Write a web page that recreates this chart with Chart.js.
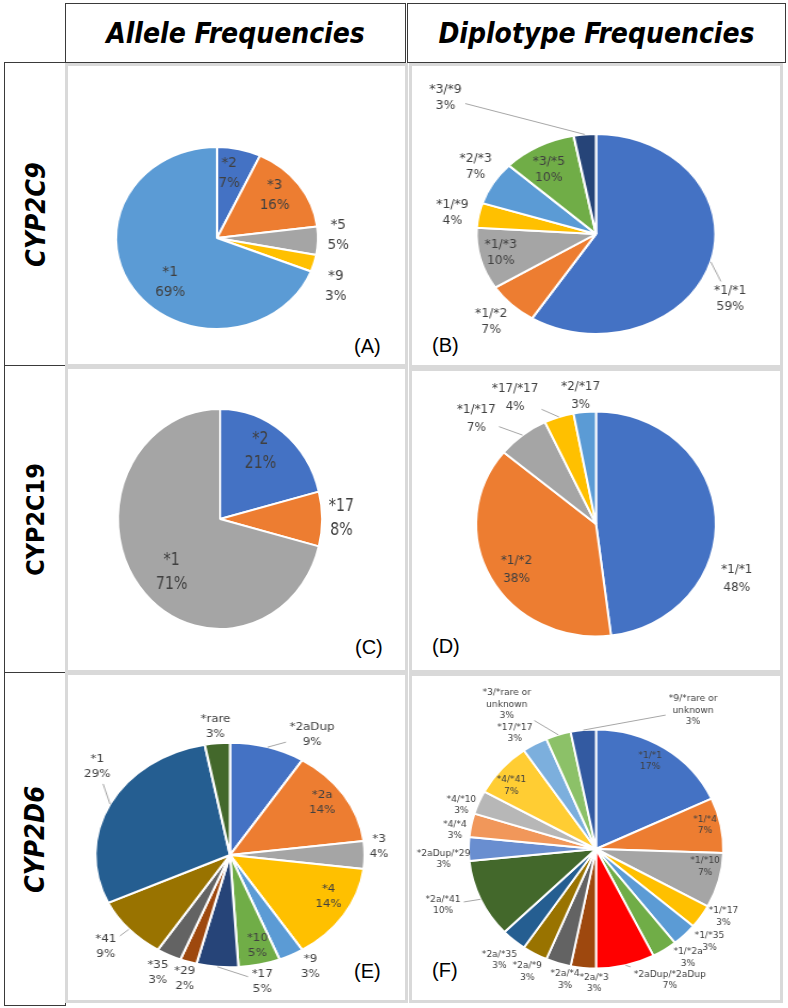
<!DOCTYPE html>
<html>
<head>
<meta charset="utf-8">
<title>CYP2C9 / CYP2C19 / CYP2D6 allele and diplotype frequencies</title>
<script src="https://cdn.jsdelivr.net/npm/chart.js@4.4.1/dist/chart.umd.min.js"></script>
<style>
  html, body { margin: 0; padding: 0; background: #fff; }
  body { position: relative; width: 788px; height: 1008px; overflow: hidden; }
  .cell {
    position: absolute; box-sizing: border-box; border: 1px solid #3a3a3a;
    display: flex; align-items: center; justify-content: center;
    font-family: "Liberation Sans Narrow", "DejaVu Sans Condensed", "Noto Sans", sans-serif;
    font-weight: bold; color: #000;
  }
  .head { font-size: 28px; font-style: italic; }
  .gene span { display: block; transform: rotate(-90deg); white-space: nowrap; font-size: 27px; }
  .panel { position: absolute; box-sizing: border-box; border: 3px solid #d9d9d9; }
  .tag { position: absolute; font: 20px/22px "Liberation Sans", Arial, sans-serif; color: #000; }
  canvas { position: absolute; }
</style>
</head>
<body>

<div class="cell head" style="left:65px;top:3px;width:341px;height:60px;">Allele Frequencies</div>
<div class="cell head" style="left:407px;top:3px;width:379px;height:60px;">Diplotype Frequencies</div>
<div class="cell gene" style="left:4px;top:62px;width:62px;height:304px;"><span style="font-style:italic">CYP2C9</span></div>
<div class="cell gene" style="left:4px;top:365px;width:62px;height:308px;"><span style="font-size:25px">CYP2C19</span></div>
<div class="cell gene" style="left:4px;top:672px;width:62px;height:334px;"><span style="font-style:italic">CYP2D6</span></div>

<div class="panel" style="left:65px;top:63px;width:343px;height:304px;"></div>
<div class="panel" style="left:409px;top:63px;width:374px;height:305px;"></div>
<div class="panel" style="left:65px;top:366px;width:343px;height:307px;"></div>
<div class="panel" style="left:409px;top:368px;width:374px;height:305px;"></div>
<div class="panel" style="left:65px;top:672px;width:343px;height:331px;"></div>
<div class="panel" style="left:409px;top:673px;width:374px;height:330px;"></div>

<div class="tag" style="left:354px;top:335px;">(A)</div>
<div class="tag" style="left:432px;top:334px;">(B)</div>
<div class="tag" style="left:355px;top:636px;">(C)</div>
<div class="tag" style="left:432px;top:635px;">(D)</div>
<div class="tag" style="left:354px;top:960px;">(E)</div>
<div class="tag" style="left:432px;top:959px;">(F)</div>

<script>
// (A) CYP2C9 alleles, clockwise from 12 o'clock
const cyp2c9Alleles = ['*2', '*3', '*5', '*9', '*1'];
const cyp2c9AlleleFreq = [7, 16, 5, 3, 69];

// (B) CYP2C9 diplotypes
const cyp2c9Diplotypes = ['*1/*1', '*1/*2', '*1/*3', '*1/*9', '*2/*3', '*3/*5', '*3/*9'];
const cyp2c9DiplotypeFreq = [59, 7, 10, 4, 7, 10, 3];

// (C) CYP2C19 alleles
const cyp2c19Alleles = ['*2', '*17', '*1'];
const cyp2c19AlleleFreq = [21, 8, 71];

// (D) CYP2C19 diplotypes
const cyp2c19Diplotypes = ['*1/*1', '*1/*2', '*1/*17', '*17/*17', '*2/*17'];
const cyp2c19DiplotypeFreq = [48, 38, 7, 4, 3];

// (E) CYP2D6 alleles
const cyp2d6Alleles = ['*2aDup', '*2a', '*3', '*4', '*9', '*10', '*17', '*29', '*35', '*41', '*1', '*rare'];
const cyp2d6AlleleFreq = [9, 14, 4, 14, 3, 5, 5, 2, 3, 9, 29, 3];

// (F) CYP2D6 diplotypes
const cyp2d6Diplotypes = ['*1/*1', '*1/*4', '*1/*10', '*1/*17', '*1/*35', '*1/*2a', '*2aDup/*2aDup',
  '*2a/*3', '*2a/*4', '*2a/*9', '*2a/*35', '*2a/*41', '*2aDup/*29', '*4/*4', '*4/*10', '*4/*41',
  '*17/*17', '*3/*rare or unknown', '*9/*rare or unknown'];
const cyp2d6DiplotypeFreq = [17, 7, 7, 3, 3, 3, 7, 3, 3, 3, 3, 10, 3, 3, 3, 7, 3, 3, 3];

// Office palette, in the order Excel hands colours to slices
const palette = ['#4472C4', '#ED7D31', '#A5A5A5', '#FFC000', '#5B9BD5', '#70AD47', '#264478',
  '#9E480E', '#636363', '#997300', '#255E91', '#43682B', '#698ED0', '#F1975A', '#B7B7B7',
  '#FFCD33', '#7CAFDD', '#8CC168', '#335AA1'];

const LABEL_FONT = '"Liberation Sans Narrow", "DejaVu Sans Condensed", "Noto Sans", sans-serif';
const BORDER = 2;

// label placement per slice: [radius factor, angle shift in degrees, leader line]
function sliceLabelPlugin(place, fontSize, lineH) {
  return {
    id: 'sliceLabels',
    afterDatasetsDraw(chart) {
      const ctx = chart.ctx;
      const meta = chart.getDatasetMeta(0);
      const values = chart.data.datasets[0].data;
      ctx.save();
      ctx.font = fontSize + 'px ' + LABEL_FONT;
      ctx.textAlign = 'center';
      ctx.textBaseline = 'middle';
      meta.data.forEach((arc, i) => {
        const { x, y, startAngle, endAngle, outerRadius } =
          arc.getProps(['x', 'y', 'startAngle', 'endAngle', 'outerRadius'], true);
        const [k, shift, leader] = place[i];
        const mid = (startAngle + endAngle) / 2;
        const a = mid + shift * Math.PI / 180;
        const lx = x + Math.cos(a) * outerRadius * k;
        const ly = y + Math.sin(a) * outerRadius * k;
        const name = chart.data.labels[i];
        const lines = name.includes(' or ')
          ? [name.slice(0, name.indexOf(' or ') + 3), name.slice(name.indexOf(' or ') + 4)]
          : [name];
        lines.push(values[i] + '%');
        const w = Math.max(...lines.map(t => ctx.measureText(t).width));
        const h = lines.length * lineH;
        if (leader) {
          const ex = x + Math.cos(mid) * outerRadius;
          const ey = y + Math.sin(mid) * outerRadius;
          const dx = ex - lx, dy = ey - ly;
          const s = Math.min((w / 2 + 3) / Math.max(Math.abs(dx), 1e-6),
                             (h / 2 + 2) / Math.max(Math.abs(dy), 1e-6));
          if (s < 1) {
            ctx.strokeStyle = '#a6a6a6';
            ctx.lineWidth = 1;
            ctx.beginPath();
            ctx.moveTo(ex, ey);
            ctx.lineTo(lx + dx * s, ly + dy * s);
            ctx.stroke();
          }
        }
        ctx.fillStyle = '#404040';
        lines.forEach((t, j) => ctx.fillText(t, lx, ly + (j - (lines.length - 1) / 2) * lineH));
      });
      ctx.restore();
    }
  };
}

// The reference pies are slightly elliptical: draw a circle, stretch the canvas in CSS.
function makePie(cfg) {
  const [px, py, pw, ph] = cfg.rect;
  const iw = Math.round(pw * cfg.ry / cfg.rx);
  const kx = pw / iw;
  const canvas = document.createElement('canvas');
  canvas.width = iw;
  canvas.height = ph;
  canvas.style.cssText = `left:${px}px;top:${py}px;width:${pw}px;height:${ph}px;`;
  document.body.appendChild(canvas);

  const icx = (cfg.cx - px) / kx, icy = cfg.cy - py;
  const half = cfg.ry + BORDER / 2;
  const colors = cfg.values.map((v, i) => (cfg.override && cfg.override[i]) || palette[i % palette.length]);

  return new Chart(canvas, {
    type: 'pie',
    data: {
      labels: cfg.labels,
      datasets: [{ data: cfg.values, backgroundColor: colors, borderColor: '#ffffff', borderWidth: BORDER }]
    },
    options: {
      responsive: false,
      animation: false,
      devicePixelRatio: 1,
      layout: { padding: { left: icx - half, right: iw - icx - half, top: icy - half, bottom: ph - icy - half } },
      plugins: { legend: { display: false }, tooltip: { enabled: false } }
    },
    plugins: [sliceLabelPlugin(cfg.place, cfg.font, cfg.lh)]
  });
}

makePie({
  labels: cyp2c9Alleles, values: cyp2c9AlleleFreq,
  rect: [65, 63, 343, 304], cx: 217, cy: 238, rx: 101, ry: 91, font: 13.5, lh: 20,
  place: [[0.72, -3], [0.74, -3.5], [1.2, -3], [1.29, 8], [0.67, -12]]
});

makePie({
  labels: cyp2c9Diplotypes, values: cyp2c9DiplotypeFreq,
  rect: [409, 63, 374, 305], cx: 596, cy: 234, rx: 119.5, ry: 100, font: 11.5, lh: 16,
  place: [[1.3, 14, true], [1.24, 0], [0.82, 1], [1.22, -1], [1.21, 3], [0.75, -3], [1.85, -37.5, true]]
});

makePie({
  labels: cyp2c19Alleles, values: cyp2c19AlleleFreq,
  rect: [65, 366, 343, 307], cx: 220, cy: 519, rx: 102, ry: 110, font: 17, lh: 24,
  place: [[0.73, -5], [1.19, 0], [0.68, -8]]
});

makePie({
  labels: cyp2c19Diplotypes, values: cyp2c19DiplotypeFreq,
  rect: [409, 368, 374, 305], cx: 596, cy: 524, rx: 120, ry: 112.5, font: 12.5, lh: 18,
  place: [[1.27, 26], [0.78, -3], [1.37, -9, true], [1.31, -13, true], [1.15, -1, true]]
});

makePie({
  labels: cyp2d6Alleles, values: cyp2d6AlleleFreq,
  rect: [65, 672, 343, 331], cx: 230, cy: 855, rx: 134.5, ry: 112.3, font: 11, lh: 15,
  place: [[1.23, 13.5, true], [0.83, -2], [1.11, -4], [0.82, -5.6], [1.16, -4], [0.83, -1.6],
          [1.15, -17.4, true], [1.15, -1], [1.18, 0], [1.23, 0, true], [1.26, 11.5, true], [1.15, 0]]
});

makePie({
  labels: cyp2d6Diplotypes, values: cyp2d6DiplotypeFreq,
  rect: [409, 673, 374, 330], cx: 596, cy: 849, rx: 127.5, ry: 119.5, font: 9.5, lh: 11.5,
  override: { 6: '#FF0000' },
  place: [[0.85, -2.5], [0.88, -1.7], [0.87, -5.5], [1.15, -5], [1.18, -5], [1.16, -6],
          [1.24, -14.5, true], [1.12, -5], [1.12, -4.7], [1.16, -1], [1.2, -1], [1.29, 3.5, true],
          [1.2, -4], [1.12, -3.3], [1.12, -3.7], [0.85, -3.5], [1.16, -4.6, true],
          [1.4, -12.8, true], [1.39, 39, true]]
});
</script>
</body>
</html>
